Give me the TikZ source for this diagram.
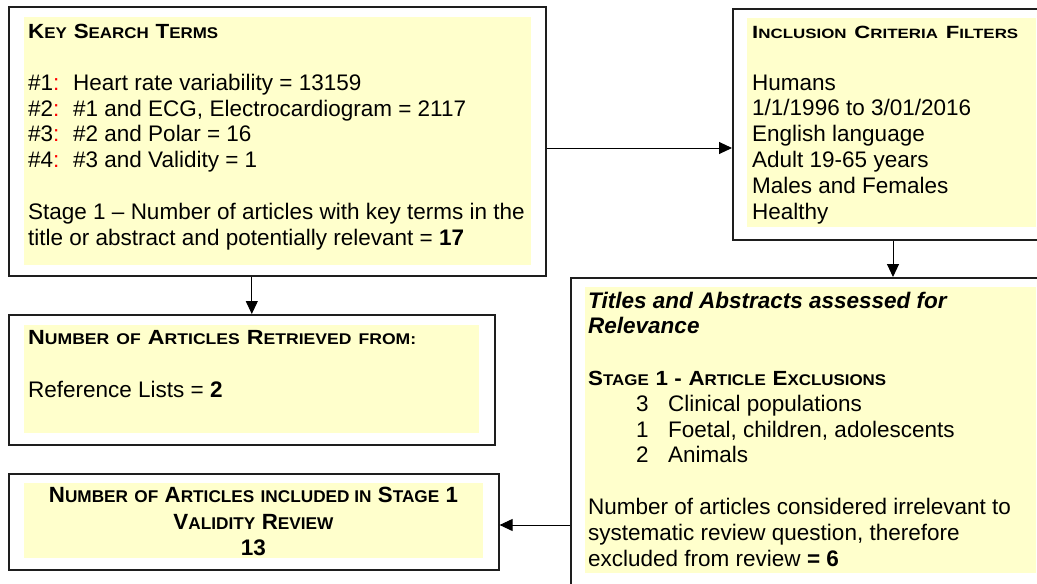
\documentclass[tikz,border=0pt]{standalone}
\usepackage{fontspec}
\setmainfont{Liberation Sans}
\usepackage{graphicx}
\usetikzlibrary{arrows.meta}
\definecolor{boxyellow}{RGB}{255,255,204}
\definecolor{boxline}{RGB}{30,30,30}
\newcommand\scA[2]{{\fontsize{20.5}{24}\selectfont #1}{\fontsize{15.5}{24}\selectfont #2}}
\newcommand\scB[2]{{\fontsize{17.7}{24}\selectfont #1}{\fontsize{13.5}{24}\selectfont #2}}
\newcommand\scC[2]{{\fontsize{22}{24}\selectfont #1}{\fontsize{17}{24}\selectfont #2}}
\begin{document}
\begin{tikzpicture}[x=1pt,y=-1pt,
  frame/.style={draw=boxline, line width=1.6pt, fill=white, inner sep=0pt, anchor=north west},
  txt/.style={inner sep=0pt, anchor=base west, align=left, font=\fontsize{22.5}{25.8}\selectfont},
  conn/.style={line width=1pt, -{Triangle[length=13pt,width=12pt]}}]
\useasboundingbox (0,0) rectangle (1037,584);
\clip (0,0) rectangle (1037,584);
% frames
\node[frame, minimum width=537pt, minimum height=269pt] (ks) at (8,6) {};
\node[frame, minimum width=313pt, minimum height=231pt] (inc) at (732,8) {};
\node[frame, minimum width=486pt, minimum height=130pt] (ret) at (8,314) {};
\node[frame, minimum width=490pt, minimum height=96pt] (val) at (8,473) {};
\node[frame, minimum width=480pt, minimum height=323pt] (tar) at (570,277) {};
% yellow fills
\fill[boxyellow] (24,17) rectangle (531,265);
\fill[boxyellow] (747,18) rectangle (1036,227);
\fill[boxyellow] (24,325) rectangle (479,433);
\fill[boxyellow] (24,483) rectangle (483,558);
\fill[boxyellow] (585,287) rectangle (1036,573);
% texts (anchored at the baseline of their last line)
\node[txt] (kst) at (28,245) {\textbf{\resizebox{190pt}{\height}{\scA{K}{EY} \scA{S}{EARCH} \scA{T}{ERMS}}}\\[25.8pt]
\makebox[45pt][l]{\#1\textcolor{red}{:}}Heart rate variability = 13159\\
\makebox[45pt][l]{\#2\textcolor{red}{:}}\#1 and ECG, Electrocardiogram = 2117\\
\makebox[45pt][l]{\#3\textcolor{red}{:}}\#2 and Polar = 16\\
\makebox[45pt][l]{\#4\textcolor{red}{:}}\#3 and Validity = 1\\[25.8pt]
Stage 1 -- Number of articles with key terms in the\\
title or abstract and potentially relevant = \textbf{17}};
\node[txt] (inct) at (752,219) {\textbf{\resizebox{266pt}{\height}{\scB{I}{NCLUSION} \scB{C}{RITERIA} \scB{F}{ILTERS}}}\\[25.8pt]
Humans\\
1/1/1996 to 3/01/2016\\
English language\\
Adult 19-65 years\\
Males and Females\\
Healthy};
\node[txt] (rett) at (28,397) {\textbf{\resizebox{388pt}{\height}{\scA{N}{UMBER} \scA{}{OF} \scA{A}{RTICLES} \scA{R}{ETRIEVED} \scA{}{FROM:}}}\\[27.2pt]
Reference Lists = \textbf{2}};
\node[txt, anchor=base, align=center, font=\fontsize{22.5}{26.5}\selectfont] (valt) at (253.5,555.5) {\textbf{\resizebox{409pt}{\height}{\scC{N}{UMBER} \scC{}{OF} \scC{A}{RTICLES} \scC{}{INCLUDED IN} \scC{S}{TAGE} \scC{1}{}}}\\
\textbf{\resizebox{160pt}{\height}{\scC{V}{ALIDITY} \scC{R}{EVIEW}}}\\
\textbf{13}};
\node[txt] (tart) at (588,566) {\textbf{\textit{Titles and Abstracts assessed for}}\\
\textbf{\textit{Relevance}}\\[25.8pt]
\textbf{\resizebox{298pt}{\height}{\scA{S}{TAGE} \scA{1 -}{} \scA{A}{RTICLE} \scA{E}{XCLUSIONS}}}\\
\hspace*{48pt}\makebox[32pt][l]{3}Clinical populations\\
\hspace*{48pt}\makebox[32pt][l]{1}Foetal, children, adolescents\\
\hspace*{48pt}\makebox[32pt][l]{2}Animals\\[25.8pt]
Number of articles considered irrelevant to\\
systematic review question, therefore\\
excluded from review \textbf{= 6}};
% connectors
\draw[conn] (ks.east |- 0,148) -- (inc.west |- 0,148);
\draw[conn] (ks.south -| ret.north) -- (ret.north);
\draw[conn] (inc.south -| 893,0) -- (tar.north -| 893,0);
\draw[conn] (tar.west |- 0,525) -- (val.east |- 0,525);
\end{tikzpicture}
\end{document}
